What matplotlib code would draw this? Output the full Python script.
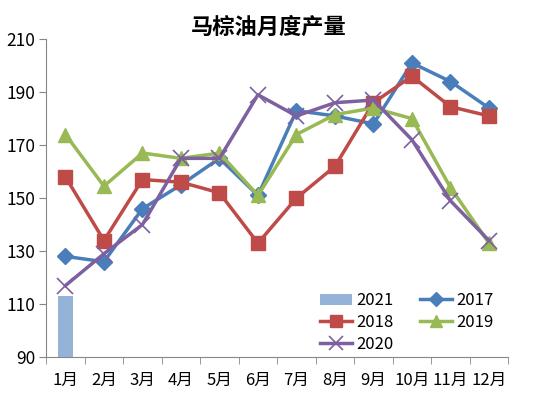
import numpy as np
import matplotlib
matplotlib.use("Agg")
import matplotlib.pyplot as plt

plt.rcParams['font.family'] = ['Noto Sans CJK SC', 'DejaVu Sans']

months = ["1月", "2月", "3月", "4月", "5月", "6月", "7月", "8月", "9月", "10月", "11月", "12月"]
y2017 = [128, 126, 146, 155, 165, 151, 183, 181, 178, 201, 194, 184]
y2018 = [158, 134, 157, 156, 152, 133, 150, 162, 186, 196, 184.5, 181]
y2019 = [174, 154.5, 167, 165, 167, 151, 174, 181.5, 184, 180, 154, 133]
y2020 = [117, 129, 140, 165, 165, 189, 181, 186, 187, 172, 149, 134]
y2021 = [113]

x = np.arange(len(months))

fig = plt.figure(figsize=(5.5, 3.99), dpi=100)
ax = fig.add_axes([0.084, 0.105, 0.84, 0.797])

b21 = ax.bar(x[:len(y2021)], [v - 90 for v in y2021], bottom=90, width=0.4,
             color='#95B3D7', label='2021', zorder=1)
l17, = ax.plot(x, y2017, color='#4A7EBB', lw=2.5, marker='D', ms=8, label='2017', zorder=3)
l18, = ax.plot(x, y2018, color='#BE4B48', lw=2.5, marker='s', ms=10, label='2018', zorder=3)
l19, = ax.plot(x, y2019, color='#98B954', lw=2.5, marker='^', ms=10, label='2019', zorder=3)
l20, = ax.plot(x, y2020, color='#7D60A0', lw=2.5, marker='x', ms=11, mew=1.2, label='2020', zorder=4)

ax.set_xlim(-0.5, 11.5)
ax.set_ylim(90, 210)
ax.set_yticks(np.arange(90, 211, 20))
ax.set_xticks(x)
ax.set_xticklabels(months)
ax.set_xticks(np.arange(-0.5, 12, 1), minor=True)
ax.tick_params(axis='x', which='major', length=0, labelsize=12, pad=11)
ax.tick_params(axis='x', which='minor', length=5, color='#868686')
ax.tick_params(axis='y', length=5, color='#868686', labelsize=12.5, pad=3)

for s in ['top', 'right']:
    ax.spines[s].set_visible(False)
for s in ['left', 'bottom']:
    ax.spines[s].set_color('#868686')

fig.text(0.488, 0.932, "马棕油月度产量", fontsize=16, fontweight='bold', ha='center', va='center')

handles = [b21, l18, l20, l17, l19]
ax.legend(handles=handles, labels=[h.get_label() for h in handles], ncol=2,
          loc='lower right', bbox_to_anchor=(1.0, -0.035), frameon=False, fontsize=12,
          handlelength=1.9, handletextpad=0.25, columnspacing=1.6, labelspacing=0.3,
          markerscale=0.9)

fig.savefig("out.png", dpi=100)
